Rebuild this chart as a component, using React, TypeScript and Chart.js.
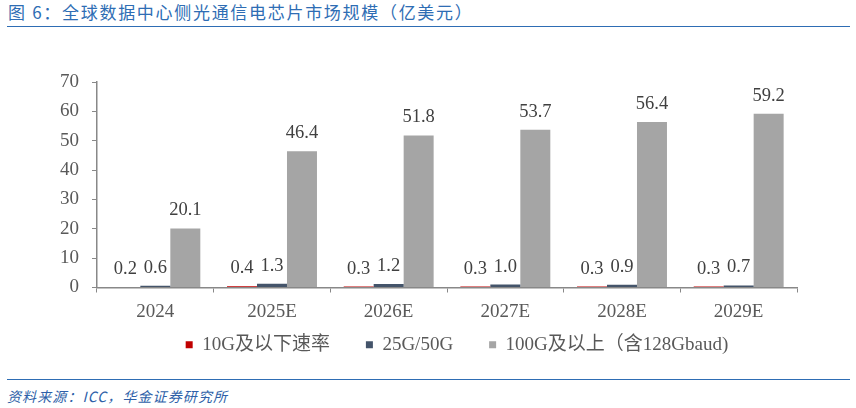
import React, { useEffect, useRef } from "react";
import { Chart, registerables } from "chart.js";

Chart.register(...registerables);

const categories = ["2024", "2025E", "2026E", "2027E", "2028E", "2029E"];
const seriesNames = ["10G及以下速率", "25G/50G", "100G及以上（含128Gbaud)"];
const series10G = [0.2, 0.4, 0.3, 0.3, 0.3, 0.3];
const series25G = [0.6, 1.3, 1.2, 1.0, 0.9, 0.7];
const series100G = [20.1, 46.4, 51.8, 53.7, 56.4, 59.2];
const seriesColors = ["#C00000", "#44546A", "#A5A5A5"];
const yMin = 0;
const yMax = 70;
const yStep = 10;

const SERIF = '"Liberation Serif", "Times New Roman", "Noto Sans CJK SC", serif';

const dataLabelPlugin = {
  id: "dataLabels",
  afterDatasetsDraw(chart: any) {
    const ctx = chart.ctx;
    ctx.save();
    ctx.font = `18.5px ${SERIF}`;
    ctx.fillStyle = "#404040";
    ctx.textAlign = "center";
    ctx.textBaseline = "alphabetic";
    chart.data.datasets.forEach((ds: any, di: number) => {
      const meta = chart.getDatasetMeta(di);
      meta.data.forEach((el: any, i: number) => {
        const v = ds.data[i];
        ctx.fillText(v.toFixed(1), el.x, el.y - 13);
      });
    });
    ctx.restore();
  },
};

// places the legend row where the reference has it
const legendPlacePlugin = {
  id: "legendPlace",
  beforeDraw(chart: any) {
    const lg = chart.legend;
    if (!lg) return;
    const pad = lg.options.labels.padding;
    const fs = lg.options.labels.font.size;
    const h = lg.bottom - lg.top;
    const targetCenter = 304.7;
    lg.top = targetCenter - pad - fs / 2;
    lg.bottom = lg.top + h;
    const ca = chart.chartArea;
    lg.left = ca.left + 10;
    lg.right = ca.right + 10;
  },
};

function BarChart() {
  const ref = useRef<HTMLCanvasElement | null>(null);
  useEffect(() => {
    if (!ref.current) return;
    const chart = new Chart(ref.current, {
      type: "bar",
      data: {
        labels: categories,
        datasets: [series10G, series25G, series100G].map((d, i) => ({
          label: seriesNames[i],
          data: d,
          backgroundColor: seriesColors[i],
          borderWidth: 0,
          barPercentage: 1,
          categoryPercentage: 0.771,
        })),
      },
      options: {
        responsive: false,
        animation: false,
        layout: { padding: { left: 0, right: 59, top: 42, bottom: 0 } },
        plugins: {
          tooltip: { enabled: false },
          legend: {
            position: "bottom",
            fullSize: false,
            labels: {
              boxWidth: 7,
              boxHeight: 7,
              padding: 36,
              color: "#595959",
              font: { size: 19, family: SERIF },
            },
          },
        },
        scales: {
          x: {
            grid: {
              display: true,
              drawOnChartArea: false,
              drawTicks: true,
              tickLength: 5,
              color: "#888888",
              offset: true,
            },
            border: { display: true, color: "#888888", width: 1.5 },
            ticks: {
              color: "#595959",
              font: { size: 19, family: SERIF },
              padding: 8,
            },
            afterFit(scale: any) {
              scale.height = 31.5;
            },
          },
          y: {
            min: yMin,
            max: yMax,
            grid: {
              display: true,
              drawOnChartArea: false,
              drawTicks: true,
              tickLength: 5,
              color: "#888888",
            },
            border: { display: true, color: "#888888", width: 1.5 },
            ticks: {
              stepSize: yStep,
              color: "#595959",
              font: { size: 19, family: SERIF },
              padding: 13,
            },
            afterFit(scale: any) {
              scale.width = 97;
            },
          },
        },
      },
      plugins: [dataLabelPlugin, legendPlacePlugin],
    });
    return () => chart.destroy();
  }, []);
  return (
    <canvas
      ref={ref}
      width={856}
      height={344}
      style={{ position: "absolute", left: 0, top: 40, width: 856, height: 344 }}
    />
  );
}

export default function App() {
  return (
    <div
      style={{
        position: "absolute",
        left: 0,
        top: 0,
        width: 856,
        height: 408,
        background: "#ffffff",
        overflow: "hidden",
      }}
    >
      <div
        style={{
          position: "absolute",
          left: 8,
          top: 2,
          fontFamily: '"Noto Sans CJK SC", sans-serif',
          fontSize: 17,
          lineHeight: "20px",
          letterSpacing: "1.7px",
          color: "#2E6DB4",
          whiteSpace: "nowrap",
        }}
      >
        图 6：全球数据中心侧光通信电芯片市场规模（亿美元）
      </div>
      <div
        style={{
          position: "absolute",
          left: 7,
          top: 25.5,
          width: 843,
          height: 1.5,
          background: "#2E6DB4",
        }}
      />
      <BarChart />
      <div
        style={{
          position: "absolute",
          left: 7,
          top: 378.8,
          width: 843,
          height: 1.5,
          background: "#2E6DB4",
        }}
      />
      <div
        style={{
          position: "absolute",
          left: 7,
          top: 386,
          fontFamily: '"Noto Sans CJK SC", sans-serif',
          fontStyle: "italic",
          fontSize: 14,
          lineHeight: "20px",
          letterSpacing: "1.1px",
          color: "#2E5FA8",
          whiteSpace: "nowrap",
        }}
      >
        资料来源：ICC，华金证券研究所
      </div>
    </div>
  );
}
